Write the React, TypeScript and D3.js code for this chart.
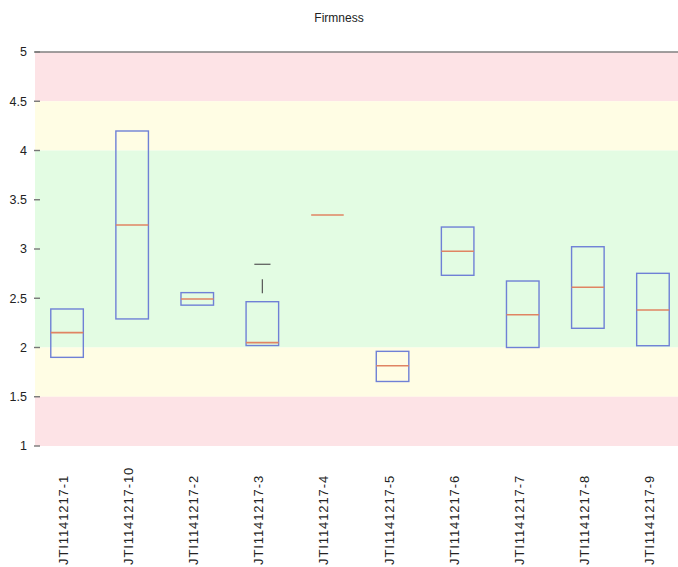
import React from "react";
import * as d3 from "d3";

const categories = [
  "JTI1141217-1", "JTI1141217-10", "JTI1141217-2", "JTI1141217-3", "JTI1141217-4",
  "JTI1141217-5", "JTI1141217-6", "JTI1141217-7", "JTI1141217-8", "JTI1141217-9",
];
const q1 = [1.9, 2.29, 2.43, 2.02, 3.345, 1.655, 2.733, 2.0, 2.195, 2.018];
const medians = [2.151, 3.244, 2.492, 2.05, 3.345, 1.815, 2.977, 2.333, 2.611, 2.381];
const q3 = [2.391, 4.198, 2.557, 2.465, 3.345, 1.961, 3.223, 2.675, 3.023, 2.753];
const upperWhisker: (number | null)[] = [null, null, null, 2.845, null, null, null, null, null, null];

const yTicks = [1, 1.5, 2, 2.5, 3, 3.5, 4, 4.5, 5];
const zones = [
  { from: 4.5, to: 5, color: "#fde3e6" },
  { from: 4, to: 4.5, color: "#fffde4" },
  { from: 2, to: 4, color: "#e3fce3" },
  { from: 1.5, to: 2, color: "#fffde4" },
  { from: 1, to: 1.5, color: "#fde3e6" },
];

const W = 678;
const H = 567;
const plotLeft = 35;
const plotRight = 678;
const plotTop = 52;
const plotBottom = 446;

export default function App() {
  const y = d3.scaleLinear().domain([1, 5]).range([plotBottom, plotTop]);
  const x = d3.scaleBand().domain(categories).range([34.5, 685.5]);
  const bw = x.bandwidth() * 0.5;
  const font = "Liberation Sans, Arial, Helvetica, sans-serif";

  return (
    <svg width={W} height={H} style={{ position: "absolute", left: 0, top: 0, display: "block", background: "#fff" }}>
      <text x={339} y={22} textAnchor="middle" fontFamily={font} fontSize={12} fill="#222">Firmness</text>
      {zones.map((z, i) => (
        <rect key={i} x={plotLeft} y={y(z.to)} width={plotRight - plotLeft} height={y(z.from) - y(z.to)} fill={z.color} />
      ))}
      <line x1={plotLeft} x2={plotRight} y1={y(5)} y2={y(5)} stroke="#808080" strokeWidth={1.6} />
      {yTicks.map((t) => (
        <g key={t}>
          <line x1={34} x2={40} y1={y(t)} y2={y(t)} stroke="#777" strokeWidth={1.4} />
          <text x={27} y={y(t)} dy="0.35em" textAnchor="end" fontFamily={font} fontSize={12.5} fill="#222">{t}</text>
        </g>
      ))}
      {categories.map((c, i) => {
        const cx = (x(c) as number) + x.bandwidth() / 2;
        const w = upperWhisker[i];
        return (
          <g key={c}>
            {w !== null && (
              <g>
                <line x1={cx} x2={cx} y1={y(w)} y2={y(q3[i])} stroke="#555" strokeWidth={1.2}
                  strokeDasharray="14 23" strokeDashoffset={22} />
                <line x1={cx - bw / 4} x2={cx + bw / 4} y1={y(w)} y2={y(w)} stroke="#555" strokeWidth={1.2} />
              </g>
            )}
            <rect x={cx - bw / 2} y={y(q3[i])} width={bw} height={Math.max(0, y(q1[i]) - y(q3[i]))}
              fill="none" stroke="#6f80d6" strokeWidth={1.4} />
            <line x1={cx - bw / 2} x2={cx + bw / 2} y1={y(medians[i])} y2={y(medians[i])} stroke="#e08463" strokeWidth={1.6} />
            <text transform={`translate(${cx + 1},${565}) rotate(-90)`} textAnchor="start" fontFamily={font}
              fontSize={13} letterSpacing={0.9} fill="#222">{c}</text>
          </g>
        );
      })}
    </svg>
  );
}
